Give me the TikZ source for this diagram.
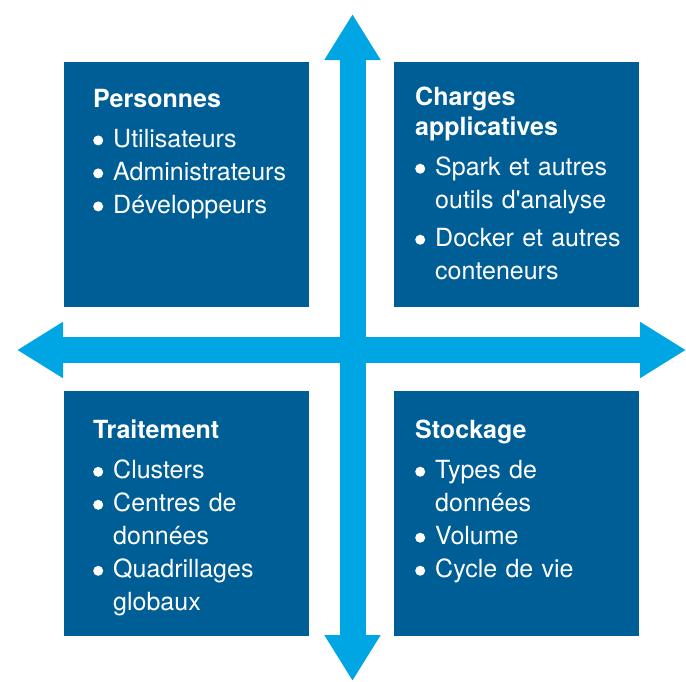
\documentclass[tikz,border=0pt]{standalone}
\usepackage{fontspec}
\setmainfont{TeX Gyre Heros}[Ligatures=TeXOff]
\usetikzlibrary{arrows.meta}

\definecolor{boxblue}{RGB}{0,94,151}
\definecolor{arrowblue}{RGB}{0,165,227}

\newcommand{\quaddot}{\raisebox{2pt}{\tikz\fill[white] (0,0) circle (5pt);}}
\newcommand{\quadpt}[1]{\par\hangindent=20pt\hangafter=1\noindent\makebox[20pt][l]{\quaddot}#1\par}
\newcommand{\quadtitle}[1]{{\fontsize{25}{30}\selectfont\bfseries #1\par}\vspace{7pt}}

\tikzset{
	quadbox/.style={fill=boxblue, draw=none, minimum width=245pt, minimum height=245pt, inner sep=0pt, anchor=north west},
	quadtext/.style={text=white, text width=215pt, align=left, inner sep=0pt, anchor=north west, font=\fontsize{25}{33}\selectfont},
	bigarrow/.style={draw=arrowblue, line width=26pt, {Triangle[width=53pt,length=46pt]}-{Triangle[width=53pt,length=46pt]}}
}

\begin{document}
\begin{tikzpicture}[x=1pt,y=-1pt]
	\useasboundingbox (0,0) rectangle (686,681);

	%boxes
	\node[quadbox] (pers) at (64,62)  {};	%top left
	\node[quadbox] (charg) at (394,62) {};	%top right
	\node[quadbox] (trait) at (64,391) {};	%bottom left
	\node[quadbox] (stock) at (394,391){};	%bottom right

	%box texts
	\node[quadtext] (perstext) at ([xshift=29pt,yshift=-27pt]pers.north west) {%
		\quadtitle{Personnes}
		\quadpt{Utilisateurs}
		\quadpt{Administrateurs}
		\quadpt{Développeurs}};
	\node[quadtext] (chargtext) at ([xshift=21pt,yshift=-25pt]charg.north west) {%
		\quadtitle{Charges\newline applicatives}
		\quadpt{Spark et autres\newline outils d'analyse}\vspace{5pt}
		\quadpt{Docker et autres\newline conteneurs}};
	\node[quadtext] (traittext) at ([xshift=29pt,yshift=-29pt]trait.north west) {%
		\quadtitle{Traitement}
		\quadpt{Clusters}
		\quadpt{Centres de\newline données}
		\quadpt{Quadrillages\newline globaux}};
	\node[quadtext] (stocktext) at ([xshift=21pt,yshift=-29pt]stock.north west) {%
		\quadtitle{Stockage}
		\quadpt{Types de\newline données}
		\quadpt{Volume}
		\quadpt{Cycle de vie}};

	%arrow ends
	\coordinate (vtop) at (352.5,14);
	\coordinate (vbot) at (352.5,681);
	\coordinate (hleft) at (17,350);
	\coordinate (hright) at (686,350);

	%arrows
	\draw[bigarrow] (vbot) -- (vtop);	%vertical
	\draw[bigarrow] (hleft) -- (hright);	%horizontal
\end{tikzpicture}
\end{document}
